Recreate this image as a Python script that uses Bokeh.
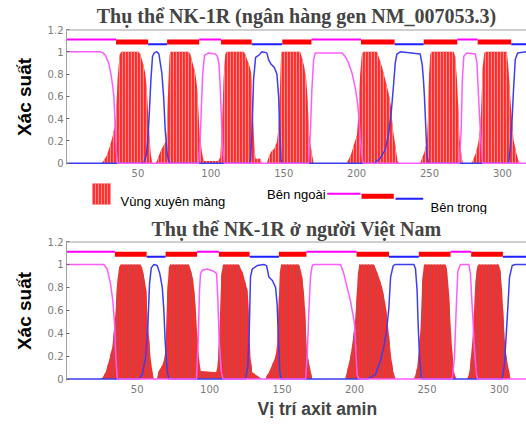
from bokeh.plotting import figure
from bokeh.models import Range1d, FixedTicker, Span, Title
from bokeh.layouts import column
from bokeh.embed import file_html
from bokeh.resources import INLINE
from bokeh.core.properties import value

# ---------------- data ----------------
x_ticks = [50, 100, 150, 200, 250, 300]
y_ticks = [0, 0.2, 0.4, 0.6, 0.8, 1.0, 1.2]
y_tick_labels = ["0", "0.2", "0.4", "0.6", "0.8", "1", "1.2"]

title_top = "Thụ thể NK-1R (ngân hàng gen NM_007053.3)"
title_bottom = "Thụ thể NK-1R ở người Việt Nam"
y_label = "Xác suất"
x_label = "Vị trí axit amin"
legend_tm = "Vùng xuyên màng"
legend_out = "Bên ngoài"
legend_in = "Bên trong"

topo_kinds = ["out", "tm", "in", "tm", "out", "tm", "in", "tm",
              "out", "tm", "in", "tm", "out", "tm", "in"]
top_topo_bounds = [1, 35, 57, 70, 92, 107, 128, 149, 169, 203, 226, 246,
                   269, 283, 306, 316.5]
bottom_topo_bounds = [1.2, 34.6, 56.5, 69.6, 91.3, 106.4, 127.6, 147.8, 166.8,
                      201.4, 223.8, 244.4, 266.3, 280.5, 302.4, 318.7]

# (residue, probability) vertices, top panel
top_tm = [(1, 0), (25, 0), (26.4, 0.02), (28.7, 0.07), (31, 0.16), (32.8, 0.25), (34, 0.33),
          (35.1, 0.45), (36, 0.75), (37.4, 0.97), (38.5, 1.0), (50.4, 1.0), (51.6, 0.98),
          (53.4, 0.9), (55, 0.81), (56.1, 0.66), (57, 0.45), (58, 0.21), (58.9, 0.07), (59.8, 0),
          (62, 0), (63, 0.02), (65.3, 0.1), (67.6, 0.16), (69.4, 0.2), (69.9, 0.3), (70.8, 0.7),
          (71.7, 0.97), (72.5, 1.0), (84.7, 1.0), (85.9, 0.98), (87.5, 0.9), (89.3, 0.81),
          (90.5, 0.69), (91.6, 0.45), (92.3, 0.25), (93.9, 0.1), (95, 0.02), (105, 0.02),
          (106.4, 0.05), (107.6, 0.3), (108.7, 0.75), (109.9, 0.98), (111, 1.0), (122.5, 1.0),
          (123.6, 0.98), (125.2, 0.92), (126.6, 0.87), (127.5, 0.82), (128.3, 0.65), (129, 0.4),
          (129.8, 0.15), (130.7, 0.04), (134, 0.04), (135, 0),
          (138.4, 0), (139.6, 0.05), (141.2, 0.1), (143.5, 0.13), (145.3, 0.19), (146.5, 0.33),
          (147.2, 0.6), (148.1, 0.95), (148.7, 1.0), (161.3, 1.0), (162.4, 0.95), (164, 0.87),
          (165.4, 0.75), (166.4, 0.57), (167, 0.35), (167.5, 0.25), (168.5, 0.15), (169.5, 0.07),
          (170.5, 0),
          (193, 0), (194.4, 0.03), (196, 0.07), (198, 0.16), (200.2, 0.25), (201.3, 0.45),
          (202.4, 0.8), (203.6, 0.98), (204.7, 1.0), (213.9, 1.0), (215, 0.96), (217.3, 0.87),
          (219.6, 0.75), (221.9, 0.63), (223.5, 0.51), (224.9, 0.3), (226.5, 0.16), (228, 0.02),
          (229, 0),
          (243.5, 0), (244.7, 0.04), (246.5, 0.1), (248.2, 0.19), (248.9, 0.4), (249.7, 0.8),
          (250.5, 0.98), (251.5, 1.0), (266.5, 1.0), (267.6, 0.96), (268.8, 0.75), (269.9, 0.45),
          (270.6, 0.21), (272.2, 0.04), (273, 0),
          (279, 0), (280.2, 0.04), (282, 0.1), (283.5, 0.19), (284.8, 0.33), (285.3, 0.45),
          (286.4, 0.85), (287.5, 0.99), (288.5, 1.0), (303, 1.0), (304.2, 0.84), (305.3, 0.6),
          (306.5, 0.39), (307.6, 0.21), (309.4, 0.1), (311, 0.02), (312, 0), (316.5, 0)]

top_out = [(1, 1.0), (24, 1.0), (26, 0.99), (27.6, 0.97), (29.9, 0.9), (31.5, 0.8), (32.6, 0.7),
           (33.5, 0.6), (34, 0.45), (34.6, 0.25), (35.3, 0.08), (36, 0), (91.6, 0), (92.7, 0.21),
           (93.5, 0.5), (94.4, 0.8), (95.7, 0.97), (98.5, 0.99), (103, 0.98), (104.5, 0.96),
           (105.5, 0.9), (106.4, 0.7), (107.1, 0.45), (108, 0.16), (109.2, 0), (167, 0),
           (168.2, 0.25), (169.3, 0.66), (170.5, 0.93), (171.6, 0.99), (190, 0.99), (192, 0.96),
           (194.5, 0.9), (197, 0.8), (199, 0.68), (200.5, 0.55), (201.5, 0.42), (202.4, 0.25),
           (203.5, 0.07), (204.5, 0), (270.5, 0), (271.7, 0.3), (272.5, 0.75), (273.5, 0.96),
           (275.6, 0.99), (281.4, 0.98), (282.5, 0.9), (283.6, 0.6), (284.3, 0.42), (285.2, 0.22),
           (286.4, 0), (316.5, 0)]

top_in = [(1, 0), (53.9, 0), (55.7, 0.07), (56.8, 0.21), (57.8, 0.45), (58.9, 0.75), (60, 0.96),
          (61.2, 0.99), (63, 1.0), (64.4, 0.98), (65.3, 0.9), (66.4, 0.81), (67.6, 0.6),
          (68.7, 0.3), (69.9, 0.1), (71, 0.02), (72.2, 0), (127.1, 0), (128.3, 0.3), (129.3, 0.75),
          (130.7, 0.95), (133, 0.97), (135, 1.0), (138.4, 0.99), (139.6, 0.93), (141.2, 0.89),
          (143.5, 0.86), (145.3, 0.8), (146.5, 0.6), (147.2, 0.3), (148.1, 0.03), (149, 0),
          (212, 0), (216, 0.04), (219.6, 0.12), (221.9, 0.26), (223.7, 0.45), (225.3, 0.7),
          (226.5, 0.9), (227.6, 0.98), (229.9, 1.0), (243.6, 0.98), (245, 0.88), (245.8, 0.75),
          (246.5, 0.6), (247.5, 0.3), (248.2, 0.07), (249.3, 0), (304.2, 0), (305.3, 0.13),
          (306.5, 0.36), (307.6, 0.66), (308.8, 0.93), (310.4, 0.99), (316.5, 1.0)]

# (residue, probability) vertices, bottom panel
bottom_tm = [(1.2, 0), (24.5, 0), (25.9, 0.01), (28.2, 0.06), (30.5, 0.16), (32.8, 0.28),
             (34.4, 0.48), (35.1, 0.6), (36.2, 0.85), (37.4, 0.97), (38.5, 1.0), (52.3, 1.0),
             (53.5, 0.97), (55.1, 0.87), (56.3, 0.77), (56.9, 0.6), (58, 0.39), (59.2, 0.19),
             (60.4, 0.07), (61.5, 0),
             (63.5, 0), (64.9, 0.07), (67.3, 0.12), (69, 0.19), (69.6, 0.3), (70.7, 0.75),
             (71.9, 0.98), (72.8, 1.0), (85.7, 1.0), (86.8, 0.96), (88.6, 0.87), (90.3, 0.65),
             (91.4, 0.39), (92.6, 0.19), (93.7, 0.07), (104.5, 0.06), (105.2, 0.1), (105.9, 0.19),
             (106.9, 0.48), (108, 0.9), (109.2, 1.0), (120.2, 1.0), (121.3, 0.97), (123.1, 0.92),
             (124.7, 0.84), (126.3, 0.77), (127.3, 0.48), (128.2, 0.19), (129.4, 0.06),
             (132.8, 0.03), (135.1, 0.01), (136, 0),
             (138.6, 0), (139.8, 0.04), (141, 0.06), (143.3, 0.13), (145.5, 0.2), (146.6, 0.3),
             (147.5, 0.6), (148.4, 0.93), (149.3, 1.0), (161.6, 1.0), (162.7, 0.96), (163.9, 0.89),
             (165, 0.77), (165.9, 0.6), (166.6, 0.39), (167.3, 0.22), (168.5, 0.15), (169.6, 0.08),
             (170.8, 0),
             (193.5, 0), (194.9, 0.07), (197.2, 0.2), (199, 0.36), (200.2, 0.48), (201.4, 0.7),
             (202.3, 0.92), (203.3, 1.0), (213.3, 1.0), (214.5, 0.97), (216.8, 0.89), (219.1, 0.8),
             (221.4, 0.65), (222.5, 0.54), (223.7, 0.39), (225.3, 0.19), (226.7, 0.07), (228.3, 0),
             (241, 0), (242.1, 0.04), (243.2, 0.1), (244.4, 0.25), (245.6, 0.45), (246.7, 0.85),
             (247.9, 1.0), (262.9, 1.0), (264, 0.94), (265.1, 0.77), (266.3, 0.48), (267.4, 0.25),
             (268.6, 0.07), (270, 0),
             (277.8, 0), (278.9, 0.04), (279.7, 0.1), (281.3, 0.33), (282.1, 0.5), (283.4, 0.85),
             (284.7, 0.98), (285.5, 1.0), (299.6, 1.0), (300.8, 0.94), (301.9, 0.77), (303.1, 0.48),
             (304.2, 0.25), (305.8, 0.13), (307.7, 0), (318.7, 0)]

bottom_out = [(1.2, 1.0), (27, 1.0), (29.3, 0.96), (31.6, 0.83), (33.2, 0.68), (34.4, 0.48),
              (35.1, 0.22), (36.2, 0.01), (36.8, 0), (90.9, 0), (92.1, 0.33), (93, 0.77),
              (93.7, 0.92), (94.9, 0.95), (98.3, 0.96), (102.9, 0.94), (104.8, 0.92), (105.7, 0.68),
              (106.6, 0.33), (108, 0.07), (109.2, 0), (166.2, 0), (167.3, 0.19), (168.5, 0.6),
              (169.6, 0.89), (170.8, 0.99), (171.9, 1.0), (190.3, 1.0), (192.6, 0.92), (194.9, 0.8),
              (197.2, 0.68), (198.8, 0.57), (200, 0.48), (200.9, 0.25), (201.8, 0.04), (203, 0),
              (267.4, 0), (269, 0.19), (270.2, 0.62), (271.3, 0.94), (273.1, 1.0), (278.9, 1.0),
              (280, 0.92), (281, 0.68), (281.9, 0.48), (282.8, 0.25), (284.2, 0.04), (285, 0),
              (318.7, 0)]

bottom_in = [(1.2, 0), (51.2, 0), (53.5, 0.04), (55.8, 0.19), (57.4, 0.48), (58.5, 0.83),
             (59.7, 0.97), (61.5, 1.0), (63.8, 0.99), (65.6, 0.92), (67.3, 0.8), (68.4, 0.6),
             (69.3, 0.33), (70.7, 0.07), (71.9, 0), (124.7, 0), (126.3, 0.1), (127.3, 0.39),
             (128.2, 0.89), (129.4, 0.96), (132.8, 0.99), (137.4, 1.0), (139.3, 0.99), (140.9, 0.89),
             (143.3, 0.86), (145.5, 0.8), (146.6, 0.65), (147.5, 0.33), (148.4, 0.07), (149.3, 0),
             (208.7, 0), (214.5, 0.04), (217.9, 0.16), (220.2, 0.28), (222.1, 0.42), (223.7, 0.62),
             (224.9, 0.89), (226.7, 0.99), (228.3, 1.0), (241, 1.0), (242.1, 0.96), (243.2, 0.77),
             (243.9, 0.48), (244.9, 0.19), (246, 0.01), (247, 0), (301.9, 0), (303.5, 0.13),
             (304.7, 0.39), (305.8, 0.62), (307, 0.89), (308.8, 0.99), (311.1, 1.0), (318.7, 1.0)]

# ---------------- styles ----------------
W = 526
LEFT = 66
OUT_COLOR = "#ff5cff"
IN_COLOR = "#3d3df2"
FRAME_GREY = "#a0a0a0"
TICK_GREY = "#7a7a7a"
TOPO_STYLE = {"out": ("#ff00ff", 1.11, 2),
              "tm": ("#ff0000", 1.088, 5),
              "in": ("#1f1fff", 1.067, 2)}
TOP_TM_STYLE = dict(fill_color="#ff2b2b", hatch_pattern="|", hatch_color="#ff8c8c",
                    hatch_scale=3, hatch_weight=1.2)
BOTTOM_TM_STYLE = dict(fill_color="#ff2a2a", hatch_pattern="|", hatch_color="#b05050",
                       hatch_scale=3, hatch_weight=1.0)


def make_panel(title, tm, outside, inside, bounds, x_start, x_end, height,
               min_bottom, title_standoff, tm_style):
    p = figure(width=W, height=height,
               x_range=Range1d(x_start, x_end), y_range=Range1d(-0.012, 1.2),
               output_backend="svg", toolbar_location=None,
               min_border_left=LEFT, min_border_right=0,
               min_border_top=0, min_border_bottom=min_bottom)
    p.title.text = title
    p.title.text_font = "Liberation Serif"
    p.title.text_font_size = "20px"
    p.title.text_font_style = "bold"
    p.title.align = "center"
    p.title.standoff = title_standoff
    p.xgrid.visible = False
    p.ygrid.visible = False
    p.outline_line_color = None

    tx, tp = zip(*tm)
    p.varea(x=list(tx), y1=0, y2=list(tp), **tm_style)
    ix, ip = zip(*inside)
    p.line(list(ix), list(ip), line_color=IN_COLOR, line_width=1.5)
    ox, op = zip(*outside)
    p.line(list(ox), list(op), line_color=OUT_COLOR, line_width=1.5)

    for kind in ("out", "in", "tm"):
        idx = [i for i, k in enumerate(topo_kinds) if k == kind]
        color, level, w = TOPO_STYLE[kind]
        p.segment(x0=[bounds[i] for i in idx], x1=[bounds[i + 1] for i in idx],
                  y0=level, y1=level, line_color=color, line_width=w, line_cap="butt")

    p.add_layout(Span(location=1.2, dimension="width", line_color=FRAME_GREY, line_width=2))

    xa = p.xaxis[0]
    xa.ticker = FixedTicker(ticks=x_ticks)
    xa.axis_line_color = None
    xa.major_tick_line_color = None
    xa.major_tick_out = 0
    xa.major_tick_in = 0
    xa.minor_tick_line_color = None
    xa.minor_tick_out = 0
    xa.major_label_text_font = "DejaVu Sans"
    xa.major_label_text_font_size = "10px"
    xa.major_label_text_color = TICK_GREY
    xa.major_label_standoff = 4

    ya = p.yaxis[0]
    ya.ticker = FixedTicker(ticks=y_ticks)
    ya.major_label_overrides = {t: s for t, s in zip(y_ticks, y_tick_labels)}
    ya.axis_line_color = FRAME_GREY
    ya.major_tick_in = 3
    ya.major_tick_out = 0
    ya.major_tick_line_color = "#666666"
    ya.minor_tick_line_color = None
    ya.minor_tick_out = 0
    ya.major_label_text_font = "DejaVu Sans"
    ya.major_label_text_font_size = "10px"
    ya.major_label_text_color = TICK_GREY
    ya.major_label_standoff = 3
    ya.axis_label = y_label
    ya.axis_label_text_font = "Liberation Sans"
    ya.axis_label_text_font_size = "19px"
    ya.axis_label_text_font_style = "bold"
    ya.axis_label_text_color = "black"
    ya.axis_label_standoff = 10
    return p


p1 = make_panel(title_top, top_tm, top_out, top_in, top_topo_bounds, 1, 316.5,
                180, 16, 5, TOP_TM_STYLE)

# ---------------- legend strip (page-pixel coordinates) ----------------
leg = figure(width=W, height=34, x_range=Range1d(LEFT, W), y_range=Range1d(214, 180),
             output_backend="svg", toolbar_location=None,
             min_border_left=LEFT, min_border_right=0, min_border_top=0, min_border_bottom=0,
             x_axis_location=None, y_axis_location=None, title=None)
leg.grid.visible = False
leg.outline_line_color = None
leg.quad(left=92, right=110, top=183, bottom=204, line_color=None, **TOP_TM_STYLE)
leg.text(x=[120], y=[201], text=[legend_tm], text_font=value("Liberation Sans"),
         text_font_size="13px", text_baseline="alphabetic", text_color="black")
leg.text(x=[266.5], y=[194.3], text=[legend_out], text_font=value("Liberation Sans"),
         text_font_size="13px", text_baseline="alphabetic", text_color="black")
leg.text(x=[430], y=[206.5], text=[legend_in], text_font=value("Liberation Sans"),
         text_font_size="13px", text_baseline="alphabetic", text_color="black")
leg.segment(x0=[326.7], x1=[360], y0=193.3, y1=193.3, line_color=TOPO_STYLE["out"][0], line_width=2)
leg.segment(x0=[361], x1=[393.3], y0=195.8, y1=195.8, line_color=TOPO_STYLE["tm"][0], line_width=5,
            line_cap="butt")
leg.segment(x0=[395], x1=[422.7], y0=198.3, y1=198.3, line_color=TOPO_STYLE["in"][0], line_width=2)

p2 = make_panel(title_bottom, bottom_tm, bottom_out, bottom_in, bottom_topo_bounds, 1.2, 318.7,
                210, 44, 3, BOTTOM_TM_STYLE)
p2.add_layout(Title(text=x_label, align="left", offset=191, vertical_align="top",
                    text_font="Liberation Sans", text_font_size="17.5px",
                    text_font_style="bold", standoff=6), "below")

layout = column(p1, leg, p2)
open("out.html", "w").write(file_html(layout, INLINE))
